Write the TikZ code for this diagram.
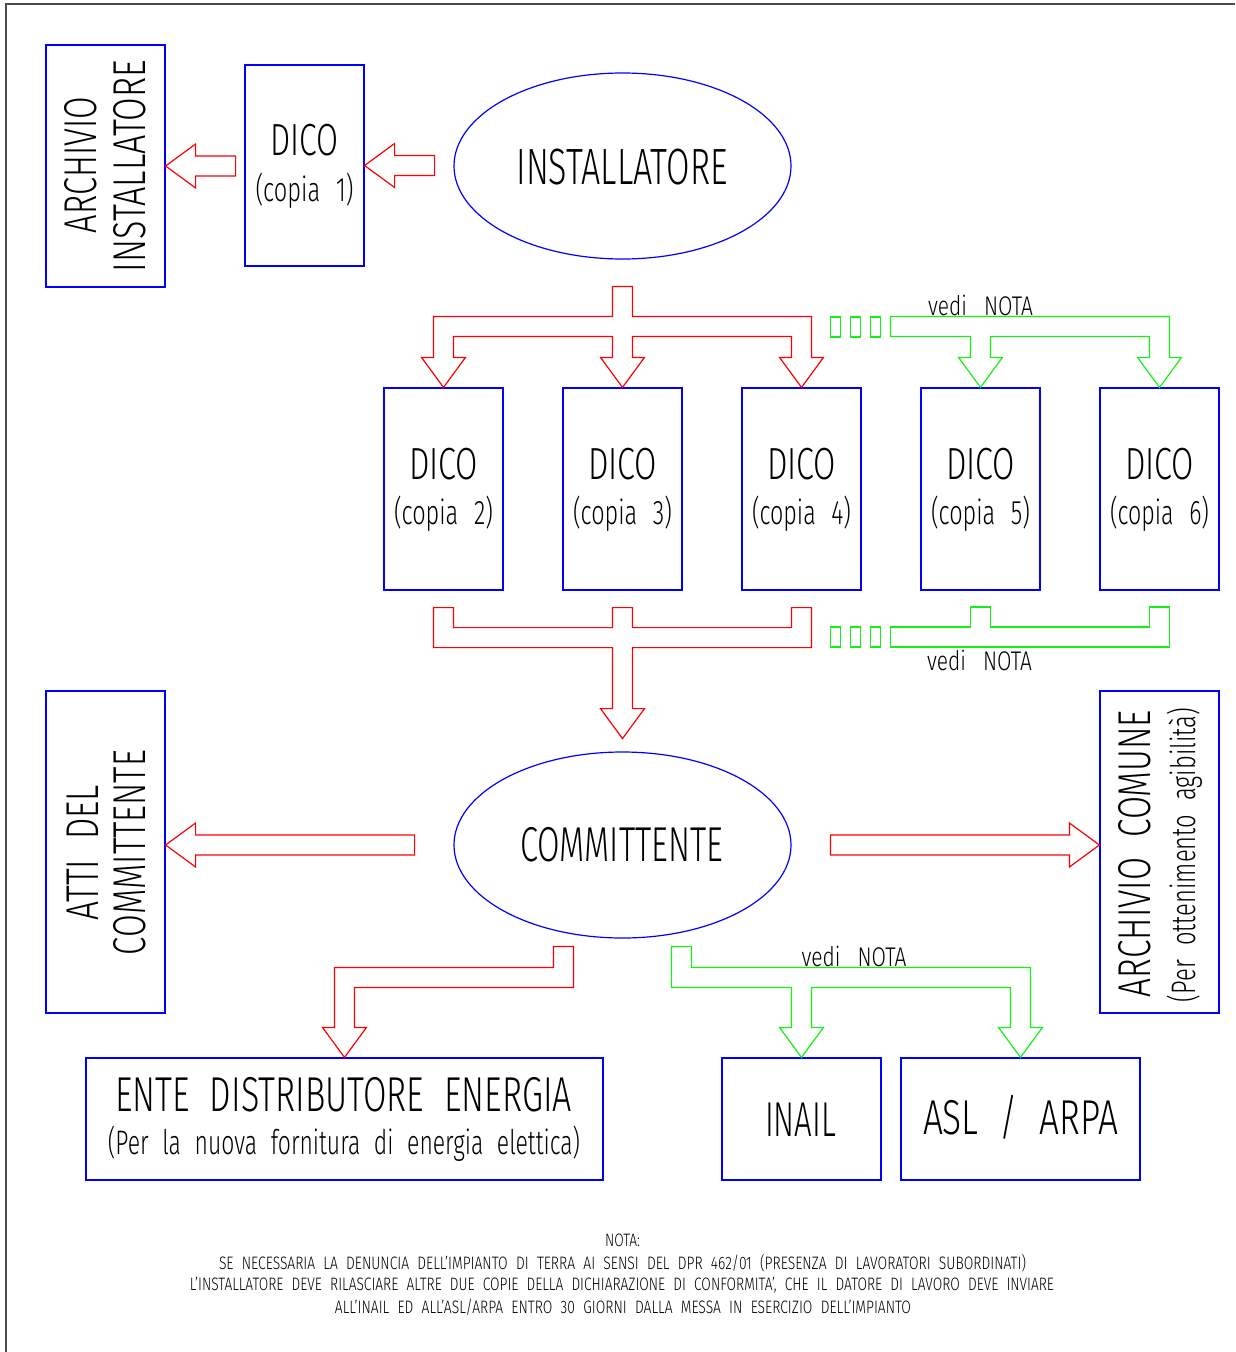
\documentclass[tikz,border=0pt]{standalone}
\usepackage{fontspec}
\usepackage{graphicx}
\setmainfont{Fira Sans Light}[FakeStretch=0.67]
\usetikzlibrary{shapes.geometric}
\definecolor{cadred}{RGB}{255,0,0}
\definecolor{cadblue}{RGB}{0,0,255}
\definecolor{cadgreen}{RGB}{20,240,20}
\newcommand{\fitw}[3][0.4em]{\resizebox{#2}{\height}{\spaceskip=#1\relax #3}}
\newcommand{\fsz}[1]{\fontsize{#1}{#1}\selectfont}
\begin{document}
\begin{tikzpicture}[x=1pt,y=-1pt,
  box/.style={draw=cadblue, line width=1.2pt, inner sep=0pt},
  redarrow/.style={draw=cadred, line width=1.2pt},
  greenarrow/.style={draw=cadgreen, line width=1.2pt},
  lbl/.style={inner sep=0pt, text=black}]
\useasboundingbox (0,0) rectangle (1235,1352);
\draw[line width=1.5pt, black!70] (6,1352) -- (6,4) -- (1235,4);

% top row
\node[box, minimum width=119pt, minimum height=242pt] (archinst) at (105.5,166) {};
\node[box, minimum width=119pt, minimum height=201pt] (d1) at (304.5,165.5) {};
\node[box, ellipse, minimum width=337pt, minimum height=186pt] (inst) at (622.5,166) {};
\node[lbl, rotate=90, font=\fsz{46}] at (81,165) {\fitw{136pt}{ARCHIVIO}};
\node[lbl, rotate=90, font=\fsz{46}] at (130,166) {\fitw{212pt}{INSTALLATORE}};
\node[lbl, font=\fsz{45}] at (304.5,140) {\fitw{68pt}{DICO}};
\node[lbl, font=\fsz{34}] at (304.5,191) {\fitw[0.45em]{98pt}{(copia 1)}};
\node[lbl, font=\fsz{51}] at (622,167) {\fitw{211pt}{INSTALLATORE}};

\draw[redarrow] (d1.east) -- ++(30,-22) -- ++(0,12) -- ++(40,0) -- ++(0,20) -- ++(-40,0) -- ++(0,12) -- cycle;
\draw[redarrow] (archinst.east) -- ++(30,-22) -- ++(0,12) -- ++(40,0) -- ++(0,20) -- ++(-40,0) -- ++(0,12) -- cycle;

% DICO row
\foreach \n/\x in {2/443.5,3/622.5,4/801.5,5/980.5,6/1159.5}{
  \node[box, minimum width=119pt, minimum height=202pt] (d\n) at (\x,489) {};
  \node[lbl, font=\fsz{45}] at (\x,464) {\fitw{69pt}{DICO}};
  \node[lbl, font=\fsz{34}] at (\x,514) {\fitw[0.45em]{99pt}{(copia \n)}};
}

% top red manifold
\draw[redarrow] (d2.north) -- ++(-22,-30) -- ++(12,0) -- ++(0,-41) -- ++(179,0) -- ++(0,-30) -- ++(20,0) -- ++(0,30) -- ++(179,0) -- ++(0,41) -- ++(12,0)
  -- (d4.north) -- ++(-22,-30) -- ++(12,0) -- ++(0,-21) -- ++(-159,0) -- ++(0,21) -- ++(12,0)
  -- (d3.north) -- ++(-22,-30) -- ++(12,0) -- ++(0,-21) -- ++(-159,0) -- ++(0,21) -- ++(12,0) -- cycle;
% top green manifold
\draw[greenarrow] (d5.north) -- ++(-22,-30) -- ++(12,0) -- ++(0,-21) -- ++(-80,0) -- ++(0,-20) -- ++(279,0) -- ++(0,41) -- ++(12,0)
  -- (d6.north) -- ++(-22,-30) -- ++(12,0) -- ++(0,-21) -- ++(-159,0) -- ++(0,21) -- ++(12,0) -- cycle;
\foreach \x in {830.5,850.5,870.5}{\draw[greenarrow] (\x,317) rectangle ++(10,20);}
\node[lbl, font=\fsz{27}] (vn1) at (980.5,305) {\fitw[0.55em]{105pt}{vedi NOTA}};

% bottom manifolds
\draw[redarrow] ([xshift=-10pt,yshift=-17pt]d2.south) -- ++(20,0) -- ++(0,20) -- ++(159,0) -- ++(0,-20) -- ++(20,0) -- ++(0,20) -- ++(159,0) -- ++(0,-20) -- ++(20,0) -- ++(0,40)
  -- ++(-179,0) -- ++(0,61) -- ++(12,0) -- ++(-22,30) -- ++(-22,-30) -- ++(12,0) -- ++(0,-61) -- ++(-179,0) -- cycle;
\draw[greenarrow] (890.5,627) -- ++(80,0) -- ++(0,-20) -- ++(20,0) -- ++(0,20) -- ++(159,0) -- ++(0,-20) -- ++(20,0) -- ++(0,40) -- ++(-279,0) -- cycle;
\foreach \x in {830.5,850.5,870.5}{\draw[greenarrow] (\x,627) rectangle ++(10,20);}
\node[lbl, font=\fsz{27}] (vn2) at (979.5,660) {\fitw[0.55em]{105pt}{vedi NOTA}};

% committente row
\node[box, minimum width=119pt, minimum height=322pt] (atti) at (105.5,852) {};
\node[box, ellipse, minimum width=337pt, minimum height=186pt] (comm) at (622.5,845) {};
\node[box, minimum width=119pt, minimum height=322pt] (archcom) at (1159.5,852) {};
\node[lbl, rotate=90, font=\fsz{46}] at (83,852.5) {\fitw{135pt}{ATTI DEL}};
\node[lbl, rotate=90, font=\fsz{46}] at (130,852.5) {\fitw{205pt}{COMMITTENTE}};
\node[lbl, font=\fsz{49}] at (621.5,845) {\fitw{203pt}{COMMITTENTE}};
\node[lbl, rotate=90, font=\fsz{46}] at (1135,853.5) {\fitw{287pt}{ARCHIVIO COMUNE}};
\node[lbl, rotate=90, font=\fsz{34}] at (1185,855) {\fitw{294pt}{(Per ottenimento agibilità)}};

\draw[redarrow] (atti.east |- comm.center) -- ++(30,-22) -- ++(0,12) -- ++(219,0) -- ++(0,20) -- ++(-219,0) -- ++(0,12) -- cycle;
\draw[redarrow] (archcom.west |- comm.center) -- ++(-30,-22) -- ++(0,12) -- ++(-239,0) -- ++(0,20) -- ++(239,0) -- ++(0,12) -- cycle;

% bottom boxes
\node[box, minimum width=517pt, minimum height=122pt] (ente) at (344.5,1119) {};
\node[box, minimum width=159pt, minimum height=122pt] (inail) at (801.5,1119) {};
\node[box, minimum width=239pt, minimum height=122pt] (asl) at (1020.5,1119) {};
\node[lbl, font=\fsz{49}] at (343.5,1095) {\fitw{457pt}{ENTE DISTRIBUTORE ENERGIA}};
\node[lbl, font=\fsz{34}] at (344,1144) {\fitw{472pt}{(Per la nuova fornitura di energia elettica)}};
\node[lbl, font=\fsz{49}] at (800.5,1120) {\fitw{71pt}{INAIL}};
\node[lbl, font=\fsz{49}] at (1020.5,1117) {\fitw{195pt}{ASL / ARPA}};

\draw[redarrow] (ente.north) -- ++(-22,-30) -- ++(12,0) -- ++(0,-60) -- ++(219,0) -- ++(0,-21) -- ++(20,0) -- ++(0,41) -- ++(-219,0) -- ++(0,40) -- ++(12,0) -- cycle;
\draw[greenarrow] (inail.north) -- ++(-22,-30) -- ++(12,0) -- ++(0,-40) -- ++(-120,0) -- ++(0,-41) -- ++(20,0) -- ++(0,21) -- ++(339,0) -- ++(0,60) -- ++(12,0)
  -- (asl.north) -- ++(-22,-30) -- ++(12,0) -- ++(0,-40) -- ++(-199,0) -- ++(0,40) -- ++(12,0) -- cycle;
\node[lbl, font=\fsz{27}] (vn3) at (854,956) {\fitw[0.55em]{105pt}{vedi NOTA}};

% note
\node[lbl, font=\fsz{18}] (nota) at (622.5,1240) {\fitw{35pt}{NOTA:}};
\node[lbl, font=\fsz{18}] at (622.5,1263) {\fitw{807pt}{SE NECESSARIA LA DENUNCIA DELL'IMPIANTO DI TERRA AI SENSI DEL DPR 462/01 (PRESENZA DI LAVORATORI SUBORDINATI)}};
\node[lbl, font=\fsz{18}] at (622,1285) {\fitw{864pt}{L'INSTALLATORE DEVE RILASCIARE ALTRE DUE COPIE DELLA DICHIARAZIONE DI CONFORMITA', CHE IL DATORE DI LAVORO DEVE INVIARE}};
\node[lbl, font=\fsz{18}] at (623,1307) {\fitw{576pt}{ALL'INAIL ED ALL'ASL/ARPA ENTRO 30 GIORNI DALLA MESSA IN ESERCIZIO DELL'IMPIANTO}};
\end{tikzpicture}
\end{document}
